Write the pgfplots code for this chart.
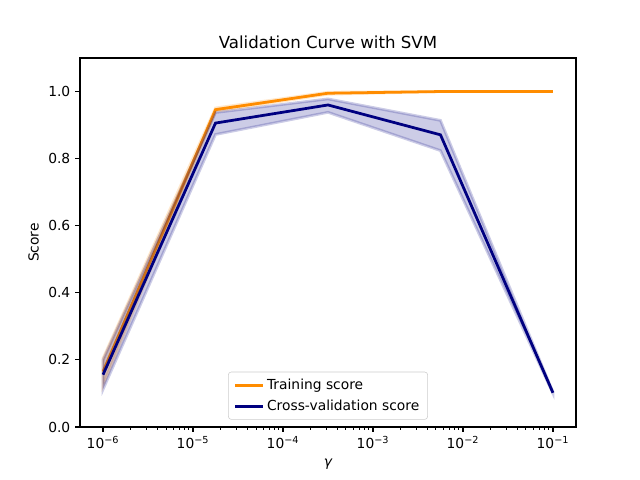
\documentclass[border=0pt]{standalone}
\usepackage{fontspec}
\setmainfont{DejaVu Sans}
\usepackage{pgfplots}
\pgfplotsset{compat=1.18}
\definecolor{darkorange}{HTML}{FF8C00}
\definecolor{navy}{HTML}{000080}
\definecolor{legframe}{HTML}{CCCCCC}

\begin{document}
\begin{tikzpicture}
  \useasboundingbox (0,0) rectangle (6.4in,4.8in);
  \begin{axis}[
    at={(0.8in,0.53in)}, anchor=south west,
    scale only axis,
    width=4.96in, height=3.69in,
    xmode=log,
    xmin=5.546e-7, xmax=0.1803,
    ymin=0, ymax=1.1,
    xtick={1e-6,1e-5,1e-4,1e-3,1e-2,1e-1},
    xticklabels={10\textsuperscript{−6},10\textsuperscript{−5},10\textsuperscript{−4},10\textsuperscript{−3},10\textsuperscript{−2},10\textsuperscript{−1}},
    ytick={0,0.2,0.4,0.6,0.8,1.0},
    yticklabel style={/pgf/number format/.cd, fixed, fixed zerofill, precision=1, assume math mode=true},
    tick align=outside,
    tick pos=left,
    major tick length=3.5pt,
    minor tick length=2pt,
    every tick/.style={black, line width=0.8pt},
    every minor tick/.style={black, line width=0.6pt},
    axis line style={line width=0.8pt},
    tick label style={font=\fontsize{10}{12}\selectfont},
    title={Validation Curve with SVM},
    title style={font=\fontsize{12}{14}\selectfont, yshift=-3pt},
    xlabel={\itshape γ},
    ylabel={Score},
    label style={font=\fontsize{10}{12}\selectfont},
    legend style={at={(0.5,0.02)}, anchor=south, draw=legframe, rounded corners=2pt,
      font=\fontsize{10}{12}\selectfont, row sep=2pt, inner xsep=4pt, inner ysep=3pt},
    legend cell align=left,
    legend image code/.code={\draw[#1, line width=2pt] (0cm,0cm) -- (0.7cm,0cm);},
  ]
    % training band
    \addplot[forget plot, fill=darkorange, fill opacity=0.2, draw=darkorange, draw opacity=0.2, line width=2pt]
      coordinates {(1e-6,0.205) (1.778e-5,0.951) (3.162e-4,0.998) (5.623e-3,1.0) (0.1,1.0)
                   (0.1,1.0) (5.623e-3,1.0) (3.162e-4,0.992) (1.778e-5,0.941) (1e-6,0.125)} -- cycle;
    \addplot[darkorange, line width=2pt]
      coordinates {(1e-6,0.165) (1.778e-5,0.946) (3.162e-4,0.995) (5.623e-3,1.0) (0.1,1.0)};
    \addlegendentry{Training score}
    % cross-validation band
    \addplot[forget plot, fill=navy, fill opacity=0.2, draw=navy, draw opacity=0.2, line width=2pt]
      coordinates {(1e-6,0.200) (1.778e-5,0.9375) (3.162e-4,0.978) (5.623e-3,0.914) (0.1,0.104)
                   (0.1,0.100) (5.623e-3,0.824) (3.162e-4,0.938) (1.778e-5,0.872) (1e-6,0.112)} -- cycle;
    \addplot[navy, line width=2pt]
      coordinates {(1e-6,0.156) (1.778e-5,0.906) (3.162e-4,0.960) (5.623e-3,0.871) (0.1,0.102)};
    \addlegendentry{Cross-validation score}
  \end{axis}
\end{tikzpicture}
\end{document}
